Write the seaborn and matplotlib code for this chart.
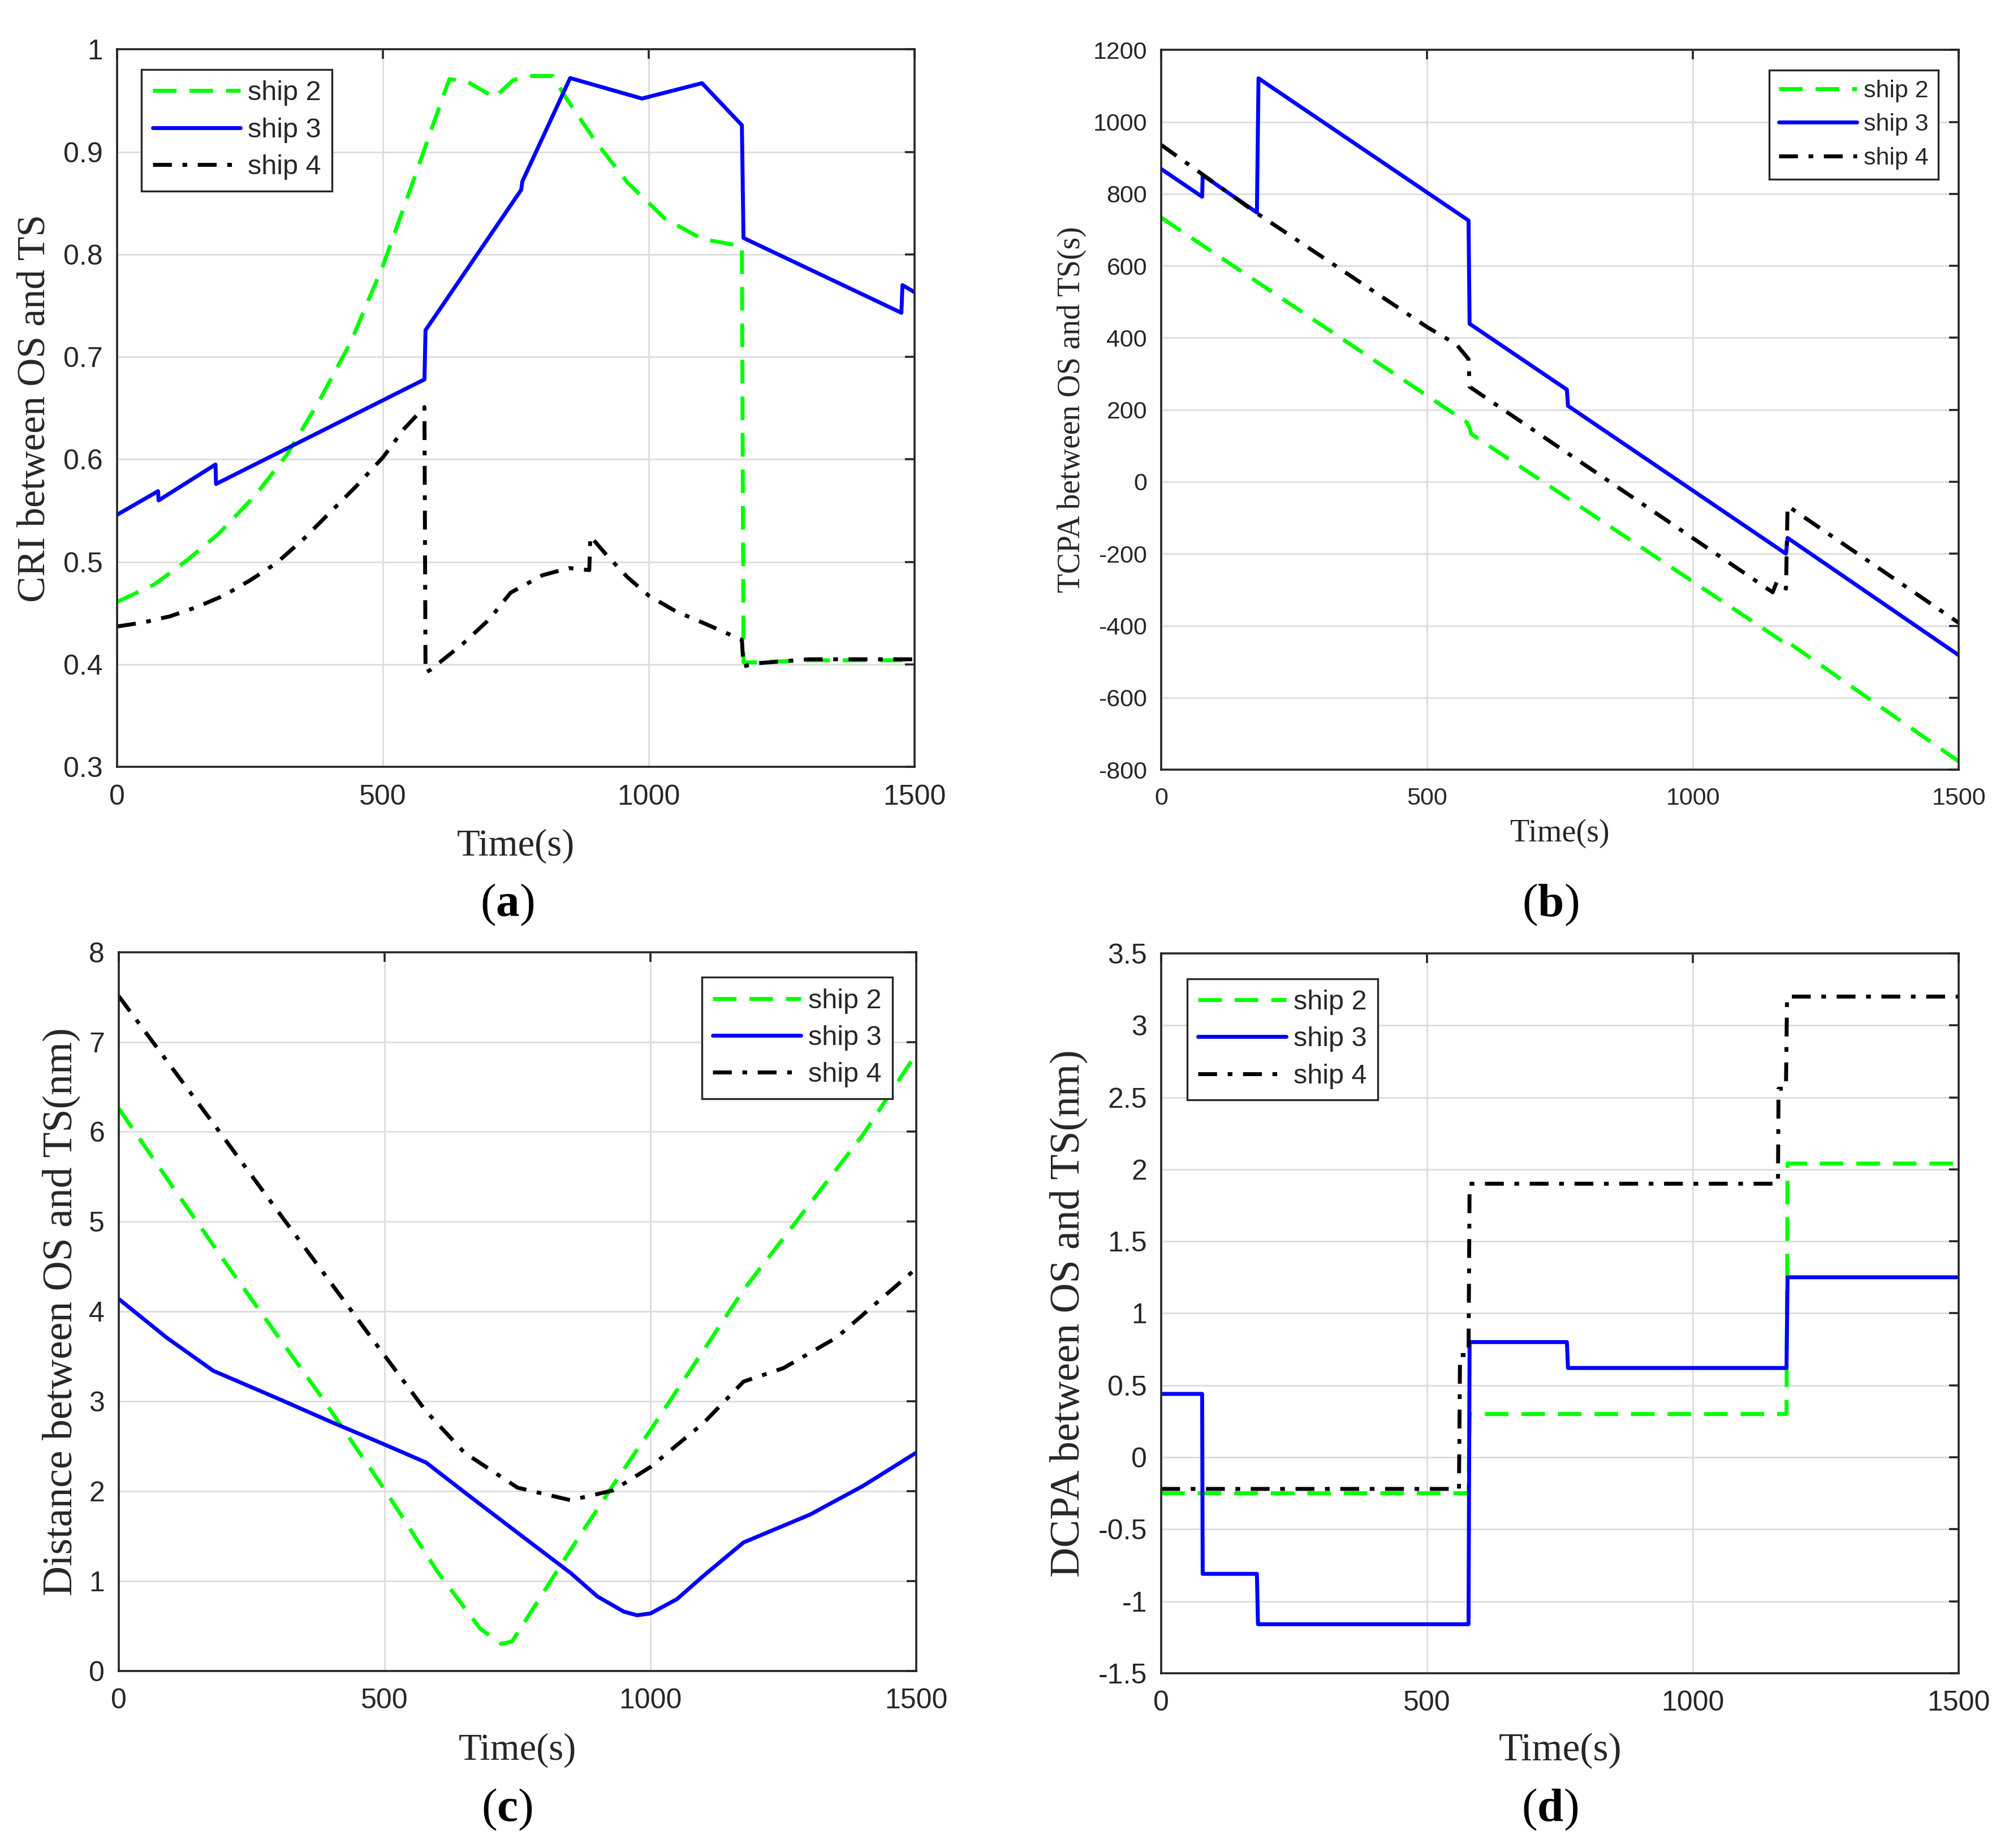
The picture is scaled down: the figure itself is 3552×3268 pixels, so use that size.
import numpy as np
import pandas as pd
import matplotlib
matplotlib.use('Agg')
import matplotlib.pyplot as plt
import seaborn as sns
from matplotlib.ticker import FuncFormatter, MultipleLocator

# ---------------- data ----------------
# (a) CRI between OS and TS
cri2_t = [0, 70, 130, 190, 260, 320, 380, 440, 500, 560, 600, 625, 660, 710, 745, 780, 820, 840,
          900, 960, 1030, 1100, 1175, 1178, 1200, 1300, 1500]
cri2_v = [0.461, 0.478, 0.501, 0.527, 0.565, 0.605, 0.657, 0.715, 0.789, 0.876, 0.935, 0.971, 0.968,
          0.953, 0.970, 0.974, 0.974, 0.956, 0.910, 0.870, 0.835, 0.815, 0.808, 0.402, 0.402, 0.404, 0.404]
cri3_t = [0, 77, 78, 185, 186, 578, 580, 760, 762, 852, 987, 1100, 1175, 1178, 1475, 1477, 1500]
cri3_v = [0.546, 0.569, 0.560, 0.595, 0.576, 0.678, 0.726, 0.863, 0.871, 0.972, 0.952, 0.967,
          0.926, 0.816, 0.743, 0.770, 0.763]
cri4_t = [0, 50, 100, 150, 200, 250, 300, 350, 400, 450, 500, 540, 578, 580, 590, 650, 700, 740,
          800, 850, 888, 890, 920, 960, 1000, 1050, 1100, 1175, 1178, 1200, 1300, 1500]
cri4_v = [0.437, 0.441, 0.447, 0.456, 0.467, 0.482, 0.499, 0.522, 0.548, 0.574, 0.602, 0.630, 0.651,
          0.392, 0.395, 0.420, 0.444, 0.470, 0.487, 0.494, 0.492, 0.525, 0.507, 0.485, 0.467, 0.452,
          0.441, 0.424, 0.398, 0.401, 0.405, 0.405]

# (b) TCPA between OS and TS
tcpa2_t = [0, 575, 580, 583, 1170, 1175, 1180, 1500]
tcpa2_v = [734, 165, 150, 133, -445, -455, -447, -777]
tcpa3_t = [0, 77, 78, 180, 183, 578, 580, 763, 765, 1175, 1178, 1500]
tcpa3_v = [869, 792, 852, 748, 1121, 726, 439, 256, 211, -200, -156, -482]
tcpa4_t = [0, 178, 500, 555, 578, 580, 1150, 1158, 1175, 1178, 1500]
tcpa4_v = [936, 748, 430, 382, 341, 264, -307, -277, -297, -67, -392]

# (c) distance between OS and TS
dist2_t = [0, 100, 200, 300, 380, 500, 600, 680, 720, 740, 780, 850, 930, 1000, 1100, 1175, 1300, 1400, 1500]
dist2_v = [6.26, 5.40, 4.55, 3.72, 3.06, 2.02, 1.10, 0.47, 0.30, 0.33, 0.70, 1.35, 2.07, 2.68, 3.57,
           4.24, 5.20, 5.97, 6.87]
dist3_t = [0, 90, 178, 300, 400, 500, 578, 650, 763, 850, 900, 950, 975, 1000, 1050, 1100, 1175, 1300, 1400, 1500]
dist3_v = [4.14, 3.71, 3.34, 3.03, 2.77, 2.52, 2.32, 1.99, 1.48, 1.09, 0.83, 0.66, 0.62, 0.64, 0.80,
           1.06, 1.43, 1.74, 2.06, 2.43]
dist4_t = [0, 187, 300, 400, 500, 578, 650, 750, 850, 930, 1000, 1100, 1175, 1250, 1350, 1500]
dist4_v = [7.51, 6.02, 5.11, 4.31, 3.51, 2.89, 2.43, 2.04, 1.90, 2.01, 2.27, 2.76, 3.22, 3.37, 3.71, 4.48]

# (d) DCPA between OS and TS
dcpa2_t = [0, 578, 580, 1176, 1178, 1500]
dcpa2_v = [-0.25, -0.25, 0.30, 0.30, 2.04, 2.04]
dcpa3_t = [0, 77, 78, 180, 182, 578, 580, 763, 765, 1176, 1178, 1500]
dcpa3_v = [0.44, 0.44, -0.81, -0.81, -1.16, -1.16, 0.80, 0.80, 0.62, 0.62, 1.25, 1.25]
dcpa4_t = [0, 560, 562, 578, 580, 1160, 1161, 1175, 1177, 1500]
dcpa4_v = [-0.22, -0.22, 0.71, 0.71, 1.90, 1.90, 2.56, 2.56, 3.20, 3.20]

ship_labels = ['ship 2', 'ship 3', 'ship 4']
ship_colors = ['#00ff00', '#0000ff', '#000000']
ship_styles = [(0, (6.0, 3.3)), '-', (0, (4.8, 2.7, 1.2, 2.7))]

# ---------------- style ----------------
sns.set_style('white')
plt.rcParams['font.family'] = ['Liberation Sans', 'DejaVu Sans']
plt.rcParams['axes.unicode_minus'] = False
plt.rcParams['mathtext.fontset'] = 'custom'
plt.rcParams['mathtext.rm'] = 'Liberation Serif'
plt.rcParams['mathtext.bf'] = 'Liberation Serif:bold'

dark = '#262626'
serif = ['Liberation Serif', 'DejaVu Serif']

fig = plt.figure(figsize=(17.76, 16.34), dpi=200)

panels = [
    dict(rect=[0.0583, 0.585, 0.397, 0.3883],
         series=[(cri2_t, cri2_v), (cri3_t, cri3_v), (cri4_t, cri4_v)],
         ylim=(0.3, 1.0), ystep=0.1, ylabel='CRI between OS and TS',
         tick=18, xlab=24, ylab=25, leg=17.5, legsp=0.42, loc='upper left', anchor=(0.0305, 0.972),
         ylab_x=-0.103, xlab_y=-0.11, letter='a', letter_xy=(0.2525, 0.5104)),
    dict(rect=[0.578, 0.5835, 0.397, 0.3895],
         series=[(tcpa2_t, tcpa2_v), (tcpa3_t, tcpa3_v), (tcpa4_t, tcpa4_v)],
         ylim=(-800, 1200), ystep=200, ylabel='TCPA between OS and TS(s)',
         tick=15.5, xlab=20.2, ylab=20, leg=15.5, legsp=0.45, loc='upper right', anchor=(0.974, 0.972),
         ylab_x=-0.112, xlab_y=-0.089, letter='b', letter_xy=(0.7717, 0.5104)),
    dict(rect=[0.0591, 0.0958, 0.397, 0.389],
         series=[(dist2_t, dist2_v), (dist3_t, dist3_v), (dist4_t, dist4_v)],
         ylim=(0, 8), ystep=1, ylabel='Distance between OS and TS(nm)',
         tick=18, xlab=24, ylab=26.5, leg=17.5, legsp=0.42, loc='upper right', anchor=(0.970, 0.965),
         ylab_x=-0.072, xlab_y=-0.11, letter='c', letter_xy=(0.2523, 0.0208)),
    dict(rect=[0.578, 0.0946, 0.397, 0.3895],
         series=[(dcpa2_t, dcpa2_v), (dcpa3_t, dcpa3_v), (dcpa4_t, dcpa4_v)],
         ylim=(-1.5, 3.5), ystep=0.5, ylabel='DCPA between OS and TS(nm)',
         tick=18, xlab=25, ylab=26.5, leg=17.5, legsp=0.42, loc='upper left', anchor=(0.0326, 0.965),
         ylab_x=-0.116, xlab_y=-0.108, letter='d', letter_xy=(0.7714, 0.0208)),
]

fmt = FuncFormatter(lambda v, _: f'{v:g}')

for p in panels:
    ax = fig.add_axes(p['rect'])
    for (t, v), lbl, col, ls in zip(p['series'], ship_labels, ship_colors, ship_styles):
        df = pd.DataFrame({'t': t, 'v': v})
        sns.lineplot(data=df, x='t', y='v', ax=ax, estimator=None, sort=False,
                     color=col, linestyle=ls, lw=2.5, label=lbl)
    ax.set_xlim(0, 1500)
    ax.set_ylim(*p['ylim'])
    ax.xaxis.set_major_locator(MultipleLocator(500))
    ax.yaxis.set_major_locator(MultipleLocator(p['ystep']))
    ax.xaxis.set_major_formatter(fmt)
    ax.yaxis.set_major_formatter(fmt)
    ax.grid(True, color='#dcdcdc', lw=1.0)
    ax.set_axisbelow(True)
    for s in ax.spines.values():
        s.set_color(dark)
        s.set_linewidth(1.3)
    ax.tick_params(direction='in', top=True, right=True, length=6, width=1.3,
                   colors=dark, labelsize=p['tick'])
    ax.tick_params(axis='x', pad=11)
    ax.tick_params(axis='y', pad=9)
    ax.set_xlabel('Time(s)', family=serif, fontsize=p['xlab'], color=dark, va='center')
    ax.set_ylabel(p['ylabel'], family=serif, fontsize=p['ylab'], color=dark, va='center')
    ax.xaxis.set_label_coords(0.5, p['xlab_y'])
    ax.yaxis.set_label_coords(p['ylab_x'], 0.5)
    leg = ax.legend(loc=p['loc'], bbox_to_anchor=p['anchor'], borderaxespad=0,
                    fontsize=p['leg'], handlelength=3.2, handletextpad=0.27,
                    labelspacing=p['legsp'], borderpad=0.4, fancybox=False, framealpha=1)
    leg.get_frame().set_edgecolor(dark)
    leg.get_frame().set_linewidth(1.2)
    fig.text(p['letter_xy'][0], p['letter_xy'][1], '($\\mathbf{' + p['letter'] + '}$)',
             ha='center', va='center', fontsize=30, family=serif, color='black')

fig.savefig('out.png', dpi=200)
